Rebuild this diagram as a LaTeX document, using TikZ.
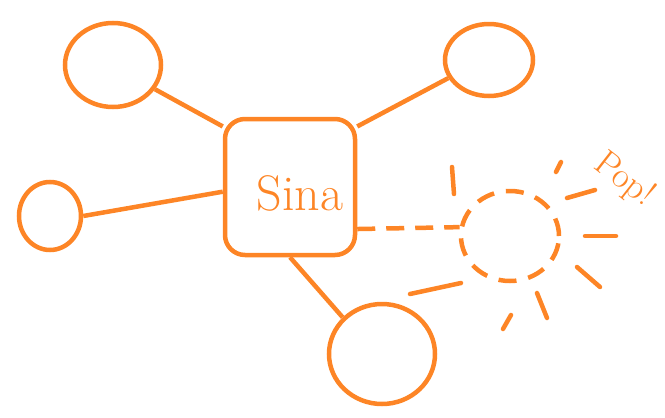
\documentclass[tikz,border=0pt]{standalone}
\usepackage{tikz}
\usetikzlibrary{shapes.geometric, positioning}

\definecolor{sinaorange}{RGB}{253,133,38}

\begin{document}
\begin{tikzpicture}[x=1pt, y=-1pt,
        peer/.style={draw=sinaorange, ellipse, line width=4.5pt, inner sep=0pt},
        hub/.style={draw=sinaorange, rectangle, rounded corners=20pt, line width=4.5pt, minimum width=130pt, minimum height=136pt},
        link/.style={draw=sinaorange, line width=4.5pt},
        gone/.style={draw=sinaorange, line width=4.5pt, dash pattern=on 18pt off 11pt},
        burst/.style={draw=sinaorange, line width=4.5pt, line cap=round}
    ]
        \useasboundingbox (0,0) rectangle (665,418);

        \node[hub] (sina) at (290,187) {};
        \node[text=sinaorange, font=\fontsize{50}{50}\selectfont] (sinalabel) at (300,193) {Sina};

        \node[peer, minimum width=96pt, minimum height=84pt] (topleft) at (113,65) {};
        \node[peer, minimum width=88pt, minimum height=72pt] (topright) at (489,60) {};
        \node[peer, minimum width=62pt, minimum height=68pt] (left) at (50,216) {};
        \node[peer, minimum width=106pt, minimum height=100pt] (bottom) at (382,354) {};
        \node[peer, dash pattern=on 18pt off 12pt, minimum width=98pt, minimum height=90pt] (popped) at (510,236) {};

        \draw[link] (topleft.-30) -- (sina.138);
        \draw[link] (sina.42) -- (topright.204);
        \draw[link] (left.east) -- (sina.184);
        \draw[link] (sina.south) -- (bottom.137);
        \draw[gone] (sina.-32) -- (popped.170);

        % burst around the popped node
        \coordinate (b1a) at (452,167); \coordinate (b1b) at (454,194);
        \coordinate (b2a) at (561,162); \coordinate (b2b) at (556,172);
        \coordinate (b3a) at (567,198); \coordinate (b3b) at (595,190);
        \coordinate (b4a) at (585,236); \coordinate (b4b) at (616,236);
        \coordinate (b5a) at (577,267); \coordinate (b5b) at (600,287);
        \coordinate (b6a) at (537,293); \coordinate (b6b) at (547,318);
        \coordinate (b7a) at (511,315); \coordinate (b7b) at (503,329);
        \coordinate (b8a) at (410,294); \coordinate (b8b) at (461,283);
        \foreach \i in {1,...,8}
            \draw[burst] (b\i a) -- (b\i b);

        \node[text=sinaorange, font=\fontsize{36}{36}\selectfont, rotate=-38, inner sep=0pt] (poplabel) at (624,180) {Pop!};

    \end{tikzpicture}
\end{document}
